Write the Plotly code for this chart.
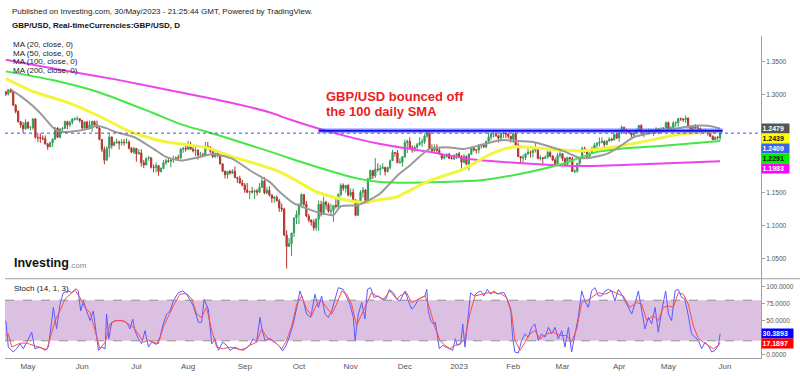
import pandas as pd
import plotly.graph_objects as go

FONT = "Liberation Sans, Arial, sans-serif"

# ---------------- data ----------------
FIRST_DAY = "2022-04-19"          # first daily bar shown
AXIS_LAST_DAY = "2023-06-30"      # calendar used for the (future) end of the time axis

OPEN_PRICES = [
    1.3035,1.3003,1.3070,1.3035,1.2836,1.2738,1.2583,1.2534,1.2475,
    1.2573,1.2491,1.2495,1.2625,1.2346,1.2341,1.2333,1.2325,1.2243,1.2203,1.2262,1.2317,1.2488,1.2346,1.2470,1.2481,1.2584,1.2533,1.2576,1.2623,1.2624,1.2627,
    1.2601,1.2487,1.2577,1.2487,1.2530,1.2585,1.2534,1.2490,1.2313,1.2160,1.1997,1.2180,1.2350,1.2222,1.2265,1.2275,1.2258,1.2270,1.2265,1.2270,1.2180,1.2120,
    1.2177,1.2095,1.2110,1.1960,1.1925,1.2030,1.2035,1.1890,1.1885,1.1915,1.1825,1.1870,1.1960,1.1990,1.1980,1.2000,1.2005,1.2035,1.2030,1.2165,1.2180,
    1.2165,1.2245,1.2165,1.2140,1.2150,1.2075,1.2080,1.2075,1.2210,1.2200,1.2135,1.2055,1.2100,1.2070,1.1940,1.1830,1.1775,1.1825,1.1800,1.1830,1.1735,1.1720,1.1650,
    1.1620,1.1545,1.1510,1.1520,1.1515,1.1530,1.1510,1.1585,1.1680,1.1500,1.1540,1.1470,1.1420,1.1435,1.1380,1.1270,1.1255,1.0860,1.0685,1.0730,1.0890,1.1120,
    1.1170,1.1320,1.1475,1.1330,1.1150,1.1085,1.1055,1.0970,1.1100,1.1325,1.1175,1.1360,1.1320,1.1220,1.1230,1.1310,1.1290,1.1475,1.1615,1.1570,1.1615,
    1.1465,1.1510,1.1390,1.1160,1.1375,1.1510,1.1545,1.1345,1.1710,1.1840,1.1760,1.1860,1.1855,1.1870,1.1890,1.1825,1.1885,1.1990,1.2115,1.2110,1.1960,1.1965,
    1.2050,1.2265,1.2285,1.2190,1.2150,1.2195,1.2235,1.2265,1.2275,1.2365,1.2420,1.2170,1.2140,1.2175,1.2150,1.2090,1.2030,1.2050,1.2090,1.2025,1.2020,1.2070,
    1.2095,1.2055,1.1965,1.2055,1.1935,1.2090,1.2180,1.2155,1.2150,1.2220,1.2230,1.2200,1.2285,1.2350,1.2395,1.2398,1.2370,1.2335,1.2405,1.2410,1.2390,1.2360,
    1.2320,1.2400,1.2225,1.2055,1.2030,1.2040,1.2095,1.2120,1.2115,1.2150,1.2175,1.2025,1.2035,1.2025,1.2045,1.2115,1.2060,1.2000,1.1945,1.2070,
    1.2095,1.2020,1.1935,1.2040,1.2020,1.1825,1.1830,1.1950,1.2030,1.2175,1.2155,1.2055,1.2105,1.2170,1.2230,1.2255,1.2270,1.2285,1.2235,1.2290,1.2320,1.2305,1.2390,
    1.2335,1.2415,1.2500,1.2455,1.2445,1.2415,1.2380,1.2415,1.2450,1.2525,1.2410,1.2415,1.2430,1.2420,1.2440,1.2443,1.2475,1.2430,1.2470,1.2490,
    1.2570,1.2455,1.2490,1.2565,1.2568,1.2630,1.2625,1.2615,1.2635,1.2510,1.2450,1.2520,1.2490,1.2480,1.2415,1.2445,1.2420,1.2415,1.2360,1.2310,1.2345,1.2340,
]
HIGH_PRICES = [
    1.3053,1.3073,1.3090,1.3040,1.2850,1.2760,1.2595,1.2580,1.2620,
    1.2585,1.2515,1.2638,1.2638,1.2400,1.2406,1.2375,1.2375,1.2260,1.2280,1.2330,1.2500,1.2500,1.2480,1.2500,1.2600,1.2600,1.2600,1.2640,1.2650,1.2667,1.2640,
    1.2615,1.2590,1.2595,1.2600,1.2600,1.2600,1.2600,1.2510,1.2320,1.2205,1.2210,1.2406,1.2360,1.2290,1.2325,1.2295,1.2315,1.2320,1.2330,1.2300,1.2200,1.2200,
    1.2180,1.2165,1.2165,1.2000,1.2030,1.2065,1.2035,1.1935,1.1965,1.1915,1.1890,1.2000,1.2020,1.2025,1.2015,1.2065,1.2060,1.2080,1.2180,1.2195,1.2245,
    1.2293,1.2280,1.2215,1.2210,1.2165,1.2125,1.2110,1.2275,1.2275,1.2205,1.2145,1.2115,1.2145,1.2085,1.1955,1.1840,1.1835,1.1850,1.1860,1.1900,1.1745,1.1760,1.1700,
    1.1650,1.1650,1.1530,1.1590,1.1555,1.1560,1.1650,1.1740,1.1740,1.1590,1.1600,1.1470,1.1450,1.1460,1.1410,1.1340,1.1275,1.0930,1.0815,1.0880,1.1125,1.1235,
    1.1345,1.1495,1.1480,1.1380,1.1180,1.1100,1.1100,1.1115,1.1380,1.1380,1.1440,1.1380,1.1350,1.1335,1.1310,1.1410,1.1495,1.1645,1.1645,1.1620,1.1630,
    1.1565,1.1565,1.1405,1.1380,1.1540,1.1590,1.1560,1.1730,1.1855,1.1850,1.2030,1.1950,1.1925,1.1950,1.1895,1.1900,1.2010,1.2155,1.2125,1.2150,1.2025,1.2055,
    1.2310,1.2310,1.2345,1.2225,1.2220,1.2260,1.2345,1.2325,1.2400,1.2446,1.2425,1.2240,1.2240,1.2240,1.2185,1.2105,1.2085,1.2095,1.2110,1.2070,1.2085,1.2105,
    1.2125,1.2075,1.2090,1.2070,1.2100,1.2200,1.2195,1.2170,1.2245,1.2250,1.2255,1.2295,1.2420,1.2410,1.2410,1.2448,1.2385,1.2415,1.2420,1.2420,1.2415,1.2370,
    1.2418,1.2425,1.2265,1.2060,1.2085,1.2105,1.2195,1.2145,1.2160,1.2270,1.2185,1.2075,1.2045,1.2070,1.2145,1.2140,1.2075,1.2040,1.2110,1.2145,
    1.2105,1.2040,1.2040,1.2045,1.2045,1.1860,1.1955,1.2045,1.2205,1.2205,1.2170,1.2115,1.2205,1.2260,1.2275,1.2345,1.2345,1.2295,1.2300,1.2345,1.2340,1.2400,1.2425,
    1.2420,1.2525,1.2505,1.2475,1.2450,1.2420,1.2455,1.2480,1.2535,1.2545,1.2425,1.2450,1.2475,1.2475,1.2475,1.2500,1.2485,1.2500,1.2500,1.2585,
    1.2585,1.2515,1.2590,1.2590,1.2640,1.2645,1.2635,1.2680,1.2650,1.2515,1.2535,1.2545,1.2525,1.2495,1.2470,1.2475,1.2445,1.2445,1.2375,1.2360,1.2365,1.2445,
]
LOW_PRICES = [
    1.2975,1.2980,1.3020,1.2820,1.2710,1.2570,1.2490,1.2410,1.2460,
    1.2467,1.2450,1.2460,1.2325,1.2275,1.2260,1.2300,1.2240,1.2155,1.2190,1.2200,1.2310,1.2340,1.2330,1.2420,1.2475,1.2470,1.2500,1.2540,1.2600,1.2600,1.2570,
    1.2460,1.2470,1.2470,1.2480,1.2430,1.2510,1.2480,1.2300,1.2120,1.1934,1.1990,1.2040,1.2170,1.2210,1.2245,1.2160,1.2220,1.2220,1.2250,1.2160,1.2105,1.2090,
    1.1975,1.2080,1.1900,1.1876,1.1920,1.1990,1.1870,1.1810,1.1810,1.1760,1.1810,1.1865,1.1925,1.1960,1.1890,1.1955,1.2000,1.2000,1.2020,1.2110,1.2130,
    1.2155,1.2155,1.2115,1.2060,1.2005,1.2040,1.2045,1.2070,1.2190,1.2110,1.2030,1.2030,1.2040,1.1935,1.1815,1.1720,1.1715,1.1780,1.1790,1.1725,1.1650,1.1640,1.1600,
    1.1500,1.1495,1.1405,1.1490,1.1405,1.1460,1.1500,1.1580,1.1480,1.1480,1.1445,1.1350,1.1350,1.1370,1.1210,1.1210,1.0840,1.0350,1.0680,1.0540,1.0830,1.1025,
    1.1025,1.1280,1.1300,1.1130,1.1055,1.1000,1.0925,1.0925,1.0925,1.1140,1.1170,1.1250,1.1200,1.1160,1.1060,1.1260,1.1260,1.1450,1.1530,1.1505,1.1450,
    1.1435,1.1385,1.1145,1.1150,1.1360,1.1430,1.1335,1.1340,1.1690,1.1710,1.1730,1.1820,1.1765,1.1860,1.1765,1.1810,1.1855,1.1985,1.2050,1.1950,1.1945,1.1900,
    1.2030,1.2105,1.2160,1.2110,1.2125,1.2170,1.2220,1.2200,1.2240,1.2340,1.2160,1.2110,1.2120,1.2100,1.2085,1.2000,1.2010,1.2040,1.2020,1.2010,1.2000,1.2015,
    1.2030,1.1840,1.1950,1.1930,1.1840,1.2080,1.2130,1.2100,1.2100,1.2170,1.2185,1.2175,1.2280,1.2300,1.2340,1.2350,1.2265,1.2280,1.2335,1.2330,1.2330,1.2265,
    1.2260,1.2205,1.2050,1.1960,1.1960,1.2000,1.2075,1.2040,1.2040,1.2115,1.2010,1.1990,1.1915,1.2015,1.2020,1.2040,1.1985,1.1925,1.1935,1.2035,
    1.1985,1.1920,1.1925,1.1985,1.1820,1.1802,1.1805,1.1905,1.2010,1.2110,1.2010,1.2020,1.2095,1.2155,1.2180,1.2205,1.2255,1.2190,1.2225,1.2280,1.2285,1.2300,1.2320,
    1.2275,1.2395,1.2440,1.2390,1.2405,1.2345,1.2340,1.2400,1.2440,1.2400,1.2345,1.2390,1.2390,1.2410,1.2365,1.2425,1.2390,1.2415,1.2430,1.2465,
    1.2440,1.2445,1.2470,1.2500,1.2510,1.2595,1.2580,1.2565,1.2485,1.2445,1.2445,1.2470,1.2445,1.2390,1.2410,1.2410,1.2370,1.2350,1.2305,1.2300,1.2310,1.2300,
]
CLOSE_PRICES = [
    1.3003,1.3070,1.3035,1.2836,1.2738,1.2583,1.2534,1.2475,1.2573,
    1.2491,1.2495,1.2625,1.2346,1.2341,1.2333,1.2325,1.2243,1.2203,1.2262,1.2317,1.2488,1.2346,1.2470,1.2481,1.2584,1.2533,1.2576,1.2623,1.2624,1.2627,1.2601,
    1.2487,1.2577,1.2487,1.2530,1.2585,1.2534,1.2490,1.2313,1.2160,1.1997,1.2180,1.2350,1.2222,1.2265,1.2275,1.2258,1.2270,1.2265,1.2270,1.2180,1.2120,1.2177,
    1.2095,1.2110,1.1960,1.1925,1.2030,1.2035,1.1890,1.1885,1.1915,1.1825,1.1870,1.1960,1.1990,1.1980,1.2000,1.2005,1.2035,1.2030,1.2165,1.2180,1.2165,
    1.2245,1.2165,1.2140,1.2150,1.2075,1.2080,1.2075,1.2210,1.2200,1.2135,1.2055,1.2100,1.2070,1.1940,1.1830,1.1775,1.1825,1.1800,1.1830,1.1735,1.1720,1.1650,1.1620,
    1.1545,1.1510,1.1520,1.1515,1.1530,1.1510,1.1585,1.1680,1.1500,1.1540,1.1470,1.1420,1.1435,1.1380,1.1270,1.1255,1.0860,1.0685,1.0730,1.0890,1.1120,1.1170,
    1.1320,1.1475,1.1330,1.1150,1.1085,1.1055,1.0970,1.1100,1.1325,1.1175,1.1360,1.1320,1.1220,1.1230,1.1310,1.1290,1.1475,1.1615,1.1570,1.1615,1.1465,
    1.1510,1.1390,1.1160,1.1375,1.1510,1.1545,1.1345,1.1710,1.1840,1.1760,1.1860,1.1855,1.1870,1.1890,1.1825,1.1885,1.1990,1.2115,1.2110,1.1960,1.1965,1.2050,
    1.2265,1.2285,1.2190,1.2150,1.2195,1.2235,1.2265,1.2275,1.2365,1.2420,1.2170,1.2140,1.2175,1.2150,1.2090,1.2030,1.2050,1.2090,1.2025,1.2020,1.2070,1.2095,
    1.2055,1.1965,1.2055,1.1935,1.2090,1.2180,1.2155,1.2150,1.2220,1.2230,1.2200,1.2285,1.2350,1.2395,1.2398,1.2370,1.2335,1.2405,1.2410,1.2390,1.2360,1.2320,
    1.2400,1.2225,1.2055,1.2030,1.2040,1.2095,1.2120,1.2115,1.2150,1.2175,1.2025,1.2035,1.2025,1.2045,1.2115,1.2060,1.2000,1.1945,1.2070,1.2095,
    1.2020,1.1935,1.2040,1.2020,1.1825,1.1830,1.1950,1.2030,1.2175,1.2155,1.2055,1.2105,1.2170,1.2230,1.2255,1.2270,1.2285,1.2235,1.2290,1.2320,1.2305,1.2390,1.2335,
    1.2415,1.2500,1.2455,1.2445,1.2415,1.2380,1.2415,1.2450,1.2525,1.2410,1.2415,1.2430,1.2420,1.2440,1.2443,1.2475,1.2430,1.2470,1.2490,1.2570,
    1.2455,1.2490,1.2565,1.2568,1.2630,1.2625,1.2615,1.2635,1.2510,1.2450,1.2520,1.2490,1.2480,1.2415,1.2445,1.2420,1.2415,1.2360,1.2310,1.2345,1.2340,1.2409,
]

# moving averages: (bar number, value)
MA20_POINTS = [(2,1.3073),(6,1.2972),(11,1.2821),(15,1.2671),(19,1.2500),(22,1.2429),(27,1.2435),(33,1.2470),
               (37,1.2520),(41,1.2481),(45,1.2420),(52,1.2350),(60,1.2169),(65,1.2048),(71,1.1992),(79,1.2048),
               (84,1.2093),(92,1.2018),(100,1.1822),(107,1.1671),(111,1.1521),(117,1.1340),(122,1.1264),(128,1.1189),
               (133,1.1163),(136,1.1294),(143,1.1314),(148,1.1400),(152,1.1490),(159,1.1766),(164,1.1917),(172,1.2169),
               (179,1.2194),(186,1.2169),(193,1.2229),(201,1.2304),(206,1.2294),(214,1.2274),(226,1.2143),(233,1.2033),
               (237,1.2033),(244,1.2093),(249,1.2199),(255,1.2350),(260,1.2395),(271,1.2470),(277,1.2511),(285,1.2520),(290,1.2479)]
MA50_POINTS = [(0,1.3239),(11,1.3043),(25,1.2877),(38,1.2666),(50,1.2440),(63,1.2289),(74,1.2229),(82,1.2184),
               (92,1.2048),(99,1.1973),(111,1.1822),(118,1.1686),(125,1.1536),(132,1.1445),(139,1.1385),(145,1.1355),
               (152,1.1400),(158,1.1430),(164,1.1536),(172,1.1686),(186,1.1867),(197,1.2093),(206,1.2199),(220,1.2169),
               (233,1.2139),(247,1.2199),(260,1.2289),(274,1.2395),(290,1.2439)]
MA100_POINTS = [(0,1.3349),(18,1.3224),(38,1.3028),(59,1.2727),(71,1.2546),(87,1.2369),(107,1.2131),(118,1.1992),
                (132,1.1830),(143,1.1717),(152,1.1667),(164,1.1656),(176,1.1664),(193,1.1691),(213,1.1822),(226,1.1943),
                (240,1.2124),(249,1.2169),(267,1.2218),(290,1.2291)]
MA200_POINTS = [(0,1.3525),(22,1.3374),(45,1.3223),(71,1.3028),(91,1.2876),(107,1.2726),(115,1.2620),(132,1.2424),
                (152,1.2243),(172,1.2124),(189,1.2011),(213,1.1943),(233,1.1908),(253,1.1928),(290,1.1983)]

# Stochastic (14, 1, 3): (bar position, value)
STOCH_K_POINTS = [
    (0,49.8),(1,10.7),(3,3.4),(4.4,8.3),(5.8,15.6),(7.1,8.3),(8.5,18),(10.5,32.7),(11.8,8.3),(13.9,10.7),(15.9,5.9),
    (17.3,10.7),(19.3,69.3),(20.6,37.6),(22,74),(23.3,91),(25.4,93.7),(26.7,91),(28.5,97),(29.4,93.7),(30.4,64),
    (31.5,79),(32.8,64),(34.2,50),(35.5,64),(37.6,5.9),(38.9,10.7),(40.3,8.3),(40.9,59.5),(41.8,23),(43,47),(45,50),
    (47,50),(49.1,47),(50.4,37.6),(51.5,52),(52.4,35),(53.8,23),(55.1,15.6),(56.5,35),(57.9,10.7),(59.2,18),(61.2,14.6),
    (62.6,25.4),(63.9,45),(65.3,59.5),(66.7,64),(68,79),(70,91),(71.8,93.7),(73.4,88.8),(74.8,79),(76.1,71.7),(78.2,47.3),
    (79.5,47.3),(80.5,81.5),(82.2,66.8),(83.6,15.6),(84.9,23),(86.3,5.9),(88,18),(89.7,13.2),(91,5.9),(93,10.7),(95.1,6.8),
    (97.1,8.3),(98.9,13.2),(100.5,23),(101.8,18),(103.2,54.6),(104,37.6),(105.2,20.5),(107.3,23),(109.3,18),(111.3,10.7),
    (112.4,4.9),(113.8,13.2),(115.1,25.4),(116.7,45),(118.4,74),(119.4,93.7),(120.8,79),(122.1,59.5),(123.8,54.6),
    (125.5,88.8),(126.9,69.3),(128.2,86.3),(129.6,59.5),(130.9,54.6),(132.3,64.4),(133.6,81.5),(135,98.5),(137,96),
    (138.4,84),(139.7,74),(141.1,54.6),(141.8,20.5),(143.1,59.5),(144.5,76.6),(145.8,52.2),(146.8,96),(148.1,98.5),
    (149.5,84),(151.2,86.3),(152.6,81.5),(154.3,81.5),(155.7,96),(157.3,91),(158.7,81.5),
    (160,79),(162.1,93.7),(163.4,79),(164.8,66.8),(166.1,71.7),(167.5,81.5),(168.8,84),(170.2,86.3),(170.9,96),(171.5,64.4),
    (172.5,49.8),(173.6,44.9),(174.4,47.3),(175.2,30.2),(176,8.3),(177.4,13.2),(178.7,10.7),(180.1,8.3),(181.4,5.9),
    (182.5,23),(183.3,13.2),(184.7,15.6),(185.5,44.9),(186.4,10.7),(187.8,59.5),(188.7,91),(190.1,86.3),(191.4,91),
    (192.8,93.7),(194.1,86.3),(195.5,96),(196.8,88.8),(198.2,93.7),(199.5,88.8),(200.9,91),(202.3,91),(203.6,81.5),
    (205,66.8),(205.8,23),(206.7,3.4),(208.1,2),(209.4,20.5),(210.8,30.2),(212.1,25.4),(213.5,40),(214.8,44.9),(216.2,20.5),
    (217.5,30.2),(218.9,25.4),(220.3,40),(221.6,30.2),(223,40),(224.3,23),(225.7,35),(227,10.7),(228.4,40),(229.7,3.4),
    (231.1,30.2),(232.4,54.6),(233.8,93.7),(235.1,79),(236.5,69.3),(237.8,93.7),(239.2,98.5),(240.6,86.3),(241.9,86.3),
    (243.3,93.7),(244.6,96),(246,93.7),(247.3,79),(248.7,96),(250,88.8),(251.4,79),(252.7,69.3),(254.1,59.5),(255.4,74),
    (256.8,93.7),(258.2,64.4),(259.5,37.6),(260.9,54.6),(262.2,44.9),(263.6,69.3),(264.9,32.7),(266.3,64.4),(267.9,93.7),
    (269,59.5),(270.3,49.8),(271.7,93.7),(273,96),(274.4,84),(275.7,81.5),(277.1,57),(278.4,30.2),(279.8,25.4),(281.2,20.5),
    (282.5,8.3),(283.9,18),(285.2,13.2),(286.6,3.4),(287.9,5.9),(289.3,13.2),(290,30.3893),
]
STOCH_D_POINTS = [
    (0,27.8),(1,30.2),(2.4,10.7),(5.8,16.6),(8.5,16.6),(11.2,13.2),(13.9,9.8),(16.6,6.8),(17.9,23),(20,49.8),(22,64.4),
    (24,81.5),(26.1,88.8),(28.1,94.6),(30.1,83.9),(32.1,69.3),(34.2,62),(36.2,35.1),(38.2,8.3),(40.3,18),(42.3,44.9),
    (44.3,49.8),(47.7,49.8),(49.7,44.9),(51.8,40),(53.8,30.2),(55.8,18),(57.9,20.5),(59.9,18),(61.9,15.6),(63.9,40),(66,57),
    (68,71.7),(70.7,88.8),(73.4,89.8),(75.5,81.5),(77.5,59.5),(79.5,54.6),(81.5,69.3),(83.6,35.1),(85.6,10.7),(88.3,8.3),
    (91,10.7),(93.7,8.3),(96.4,5.9),(99.1,13.2),(101.8,18),(103.9,37.6),(105.9,25.4),(107.9,20.5),(110,15.6),(112,8.3),
    (114,20.5),(116.1,42.4),(118.1,74),(120.1,86.3),(122.1,66.8),(124.2,57),(126.2,74),(128.2,79),(130.3,69.3),(132.3,59.5),
    (134.3,74),(136.4,93.7),(138.4,88.8),(140.4,74),(142.4,42.4),(144.5,59.5),(146.5,74),(148.5,91),(150.5,86.3),(153.3,81.5),
    (156,93.7),(158.7,81.5),
    (160,86.3),(162.7,91),(164.8,76.6),(167.5,81.5),(170.2,86.3),(172.2,66.8),(174.2,40),(176.3,20.5),(178.3,13.2),(180.3,8.3),
    (182.4,13.2),(184.4,15.6),(186.4,23),(188.4,59.5),(190.5,86.3),(193.2,88.8),(195.9,91),(198.6,91),(201.3,88.8),(203.3,83.9),
    (205.4,59.5),(206.7,20.5),(208.8,5.9),(210.8,18),(212.8,30.2),(214.8,35.1),(216.9,23),(219.6,30.2),(222.3,32.7),(225,27.8),
    (227.7,27.8),(229.7,18),(231.8,37.6),(233.8,76.6),(235.8,79),(237.8,83.9),(240.6,91),(243.3,88.8),(246,93.7),(248.7,88.8),
    (250.7,86.3),(253.4,69.3),(256.1,76.6),(258.2,74),(260.2,49.8),(262.9,57),(264.9,49.8),(266.9,69.3),(269,71.7),(271,69.3),
    (273,91),(275.1,88.8),(277.1,74),(279.1,42.4),(281.2,23),(283.2,18),(285.2,13.2),(287.2,8.3),(289.3,13.2),(290,17.1897),
]

RESISTANCE_LEVEL = 1.2447
RESISTANCE_FROM = "2022-10-13"
RESISTANCE_TO = "2023-05-31"

PRICE_TICKS = [1.05, 1.10, 1.15, 1.20, 1.25, 1.30, 1.35]
STOCH_TICKS = [0, 25, 50, 75, 100]
STOCH_BAND = (20, 80)

# ---------------- derived helpers ----------------
n = len(CLOSE_PRICES)
assert len(OPEN_PRICES) == n and len(HIGH_PRICES) == n and len(LOW_PRICES) == n
axis_days = pd.bdate_range(FIRST_DAY, AXIS_LAST_DAY)
bars = list(range(n))

tick_vals, tick_text, prev = [], [], None
for i, d in enumerate(axis_days):
    key = (d.year, d.month)
    if prev is not None and key != prev:
        tick_vals.append(i)
        tick_text.append(str(d.year) if d.month == 1 else d.strftime("%b"))
    prev = key

def bar_of(day):
    return int(axis_days.get_loc(pd.Timestamp(day)))

W, H = 800, 376
ML, MR, MT, MB = 5, 39, 36, 15
PLOT_H = H - MT - MB
SPLIT = 80 / PLOT_H           # lower panel share of height
MAIN_RANGE = [1.0194, 1.3887]
STOCH_RANGE = [-5.4, 111.7]
X_RANGE = [-0.34, 306.6]

def px_x(px):
    return (px - ML) / (W - ML - MR)

def px_y(py):
    return (H - MB - py) / PLOT_H

UP, DOWN = "#2f9e5a", "#b3342c"
GRAY_MA, YELLOW_MA, GREEN_MA, MAGENTA_MA = "#9a9a9a", "#f4f43c", "#44e744", "#ee44ee"

fig = go.Figure()
fig.add_trace(go.Candlestick(
    x=bars, open=OPEN_PRICES, high=HIGH_PRICES, low=LOW_PRICES, close=CLOSE_PRICES,
    xaxis="x", yaxis="y",
    increasing=dict(line=dict(color=UP, width=1), fillcolor=UP),
    decreasing=dict(line=dict(color=DOWN, width=1), fillcolor=DOWN),
    whiskerwidth=0, showlegend=False, hoverinfo="skip"))

for pts, color, width in [(MA200_POINTS, MAGENTA_MA, 2), (MA100_POINTS, GREEN_MA, 2),
                          (MA50_POINTS, YELLOW_MA, 3), (MA20_POINTS, GRAY_MA, 2)]:
    fig.add_trace(go.Scatter(x=[p[0] for p in pts], y=[p[1] for p in pts], mode="lines",
                             line=dict(color=color, width=width, shape="spline", smoothing=0.6),
                             xaxis="x", yaxis="y", showlegend=False, hoverinfo="skip"))

# resistance line (halo + core)
r0, r1 = bar_of(RESISTANCE_FROM), bar_of(RESISTANCE_TO)
fig.add_trace(go.Scatter(x=[r0, r1], y=[RESISTANCE_LEVEL] * 2, mode="lines",
                         line=dict(color="rgba(110,110,255,0.55)", width=5), xaxis="x", yaxis="y",
                         showlegend=False, hoverinfo="skip"))
fig.add_trace(go.Scatter(x=[r0, r1], y=[RESISTANCE_LEVEL] * 2, mode="lines",
                         line=dict(color="#1010ee", width=2), xaxis="x", yaxis="y",
                         showlegend=False, hoverinfo="skip"))

# stochastic
fig.add_trace(go.Scatter(x=[p[0] for p in STOCH_K_POINTS], y=[p[1] for p in STOCH_K_POINTS], mode="lines",
                         line=dict(color="#5a5aff", width=1), xaxis="x", yaxis="y2",
                         showlegend=False, hoverinfo="skip"))
fig.add_trace(go.Scatter(x=[p[0] for p in STOCH_D_POINTS], y=[p[1] for p in STOCH_D_POINTS], mode="lines",
                         line=dict(color="#ff4a4a", width=1), xaxis="x", yaxis="y2",
                         showlegend=False, hoverinfo="skip"))

shapes = [
    dict(type="rect", xref="paper", x0=0, x1=1, yref="y2", y0=STOCH_BAND[0], y1=STOCH_BAND[1],
         fillcolor="#dcc0e1", line=dict(width=0), layer="below"),
    dict(type="line", xref="paper", x0=0, x1=1, yref="y2", y0=STOCH_BAND[1], y1=STOCH_BAND[1],
         line=dict(color="#8f8f8f", width=1, dash="dash")),
    dict(type="line", xref="paper", x0=0, x1=1, yref="y2", y0=STOCH_BAND[0], y1=STOCH_BAND[0],
         line=dict(color="#8f8f8f", width=1, dash="dash")),
    dict(type="line", xref="paper", x0=0, x1=px_x(W), yref="paper", y0=SPLIT, y1=SPLIT,
         line=dict(color="#a0a0a0", width=1)),
    dict(type="line", xref="paper", x0=0, x1=1, yref="y", y0=CLOSE_PRICES[-1], y1=CLOSE_PRICES[-1],
         line=dict(color="#4a4aff", width=1, dash="dot")),
]

ann = []
def text(px, py, s, size=8, color="#222", bold=False, anchor="left"):
    ann.append(dict(x=px_x(px), y=px_y(py), xref="paper", yref="paper", xanchor=anchor, yanchor="middle",
                    text=f"<b>{s}</b>" if bold else s, showarrow=False,
                    font=dict(family=FONT, size=size, color=color)))

text(10, 11.2, "Published on Investing.com, 30/May/2023 - 21:25:44 GMT, Powered by TradingView.", 8, "#222")
text(10, 25.5, "GBP/USD, Real-timeCurrencies:GBP/USD, D", 8, "#111", bold=True)
for k, label in enumerate(["MA (20, close, 0)", "MA (50, close, 0)", "MA (100, close, 0)", "MA (200, close, 0)"]):
    text(11, 44.6 + k * 8.6, label, 8, "#222")
text(324, 97.5, "GBP/USD bounced off", 13, "#ec1c24", bold=True)
text(324, 112.5, "the 100 daily SMA", 13, "#ec1c24", bold=True)
text(12, 265.5, "Investing", 12.5, "#111", bold=True)
text(66.5, 267.2, ".com", 8, "#8a8a8a")
text(11.5, 291, "Stoch (14, 1, 3)", 8, "#222")

# right-hand value tags, stacked so they do not overlap
TAG_PX = 10.2
main_tags = sorted([
    (MA20_POINTS[-1][1], "#555555", "white"),
    (MA50_POINTS[-1][1], "#ffff00", "#111"),
    (CLOSE_PRICES[-1], "#3f62ee", "white"),
    (MA100_POINTS[-1][1], "#00f000", "#111"),
    (MA200_POINTS[-1][1], "#ff00ff", "white"),
], key=lambda t: -t[0])
main_unit = TAG_PX * (MAIN_RANGE[1] - MAIN_RANGE[0]) / (PLOT_H - 80)
stoch_unit = TAG_PX * (STOCH_RANGE[1] - STOCH_RANGE[0]) / 80

def stack(tags, unit, yref, fmt, width):
    placed, last = [], None
    for v, bg, fg in tags:
        pos = v if last is None else min(v, last - unit)
        last = pos
        placed.append(pos)
        ann.append(dict(x=1, xref="paper", xanchor="left", y=pos, yref=yref, yanchor="middle",
                        text=f"<b>{v:{fmt}}</b>", showarrow=False, bgcolor=bg, borderpad=0.5,
                        width=width, height=8.2, align="left",
                        font=dict(family=FONT, size=7, color=fg)))
    return placed

main_pos = stack(main_tags, main_unit, "y", ".4f", 26)
stoch_pos = stack([(STOCH_K_POINTS[-1][1], "#0000ff", "white"), (STOCH_D_POINTS[-1][1], "#ff0000", "white")],
                  stoch_unit, "y2", ".4f", 30)

def tick_labels(ticks, placed, unit):
    # labels hidden behind a value tag are left blank (the tick mark stays)
    return ["" if any(abs(t - p) < 0.95 * unit for p in placed) else f"{t:.4f}" for t in ticks]

axis_common = dict(showgrid=False, zeroline=False, showline=True, linecolor="#a0a0a0", linewidth=1,
                   side="right", ticks="outside", ticklen=3, tickcolor="#a0a0a0",
                   tickfont=dict(family=FONT, size=6.5, color="#555"))

fig.update_layout(
    width=W, height=H, margin=dict(l=ML, r=MR, t=MT, b=MB),
    paper_bgcolor="white", plot_bgcolor="white", showlegend=False,
    xaxis=dict(domain=[0, 1], anchor="y2", range=X_RANGE, tickvals=tick_vals, ticktext=tick_text,
               showgrid=False, zeroline=False, showline=True, linecolor="#a0a0a0", ticks="",
               tickfont=dict(family=FONT, size=8, color="#555"), rangeslider=dict(visible=False)),
    yaxis=dict(domain=[SPLIT, 1], anchor="x", range=MAIN_RANGE, tickvals=PRICE_TICKS,
               ticktext=tick_labels(PRICE_TICKS, main_pos, main_unit), **axis_common),
    yaxis2=dict(domain=[0, SPLIT], anchor="x", range=STOCH_RANGE, tickvals=STOCH_TICKS,
                ticktext=tick_labels(STOCH_TICKS, stoch_pos, stoch_unit), **axis_common),
    shapes=shapes, annotations=ann,
)

fig.write_html("out.html", config={"displayModeBar": False},
               post_script="document.body.style.margin='0';document.body.style.overflow='hidden';")
